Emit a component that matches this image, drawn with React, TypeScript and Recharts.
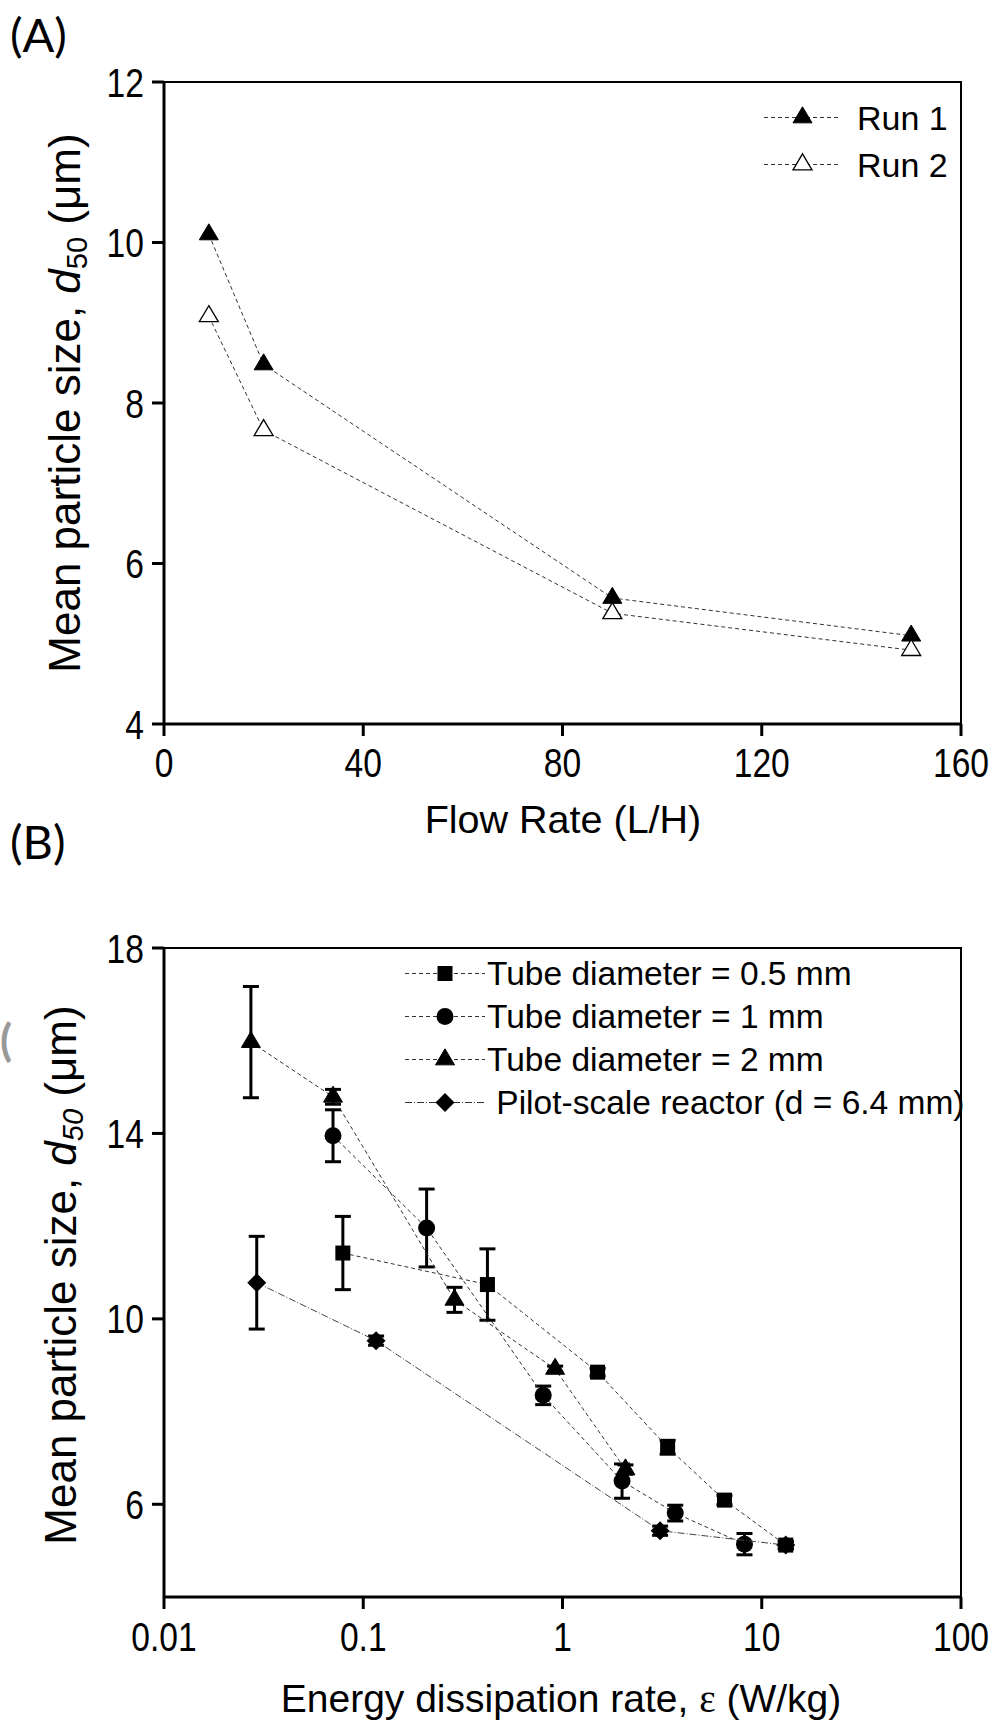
import { ScatterChart, Scatter, XAxis, YAxis, ErrorBar, ReferenceArea, Legend } from 'recharts'

const FONT = '"Liberation Sans", Arial, Helvetica, sans-serif'
const NARROW = 0.82 // tick labels in the original are a condensed face

// (A) flow rate series
const flowRates = [9, 20, 90, 150]
const run1 = [10.1, 8.48, 5.57, 5.1]
const run2 = [9.08, 7.66, 5.38, 4.92]
const flowTicks = [0, 40, 80, 120, 160]
const sizeTicksA = [4, 6, 8, 10, 12]

// (B) energy dissipation series
const tube05X = [0.079, 0.42, 1.5, 3.37, 6.5, 13.2]
const tube05Y = [11.42, 10.74, 8.85, 7.23, 6.09, 5.12]
const tube05Err = [0.79, 0.77, 0.08, 0.15, 0.1, 0.08]

const tube1X = [0.0705, 0.208, 0.8, 1.99, 3.68, 8.19]
const tube1Y = [13.95, 11.96, 8.35, 6.5, 5.81, 5.14]
const tube1Err = [0.56, 0.84, 0.2, 0.37, 0.17, 0.23]

const tube2X = [0.0273, 0.0705, 0.287, 0.918, 2.07]
const tube2Y = [15.97, 14.79, 10.41, 8.92, 6.75]
const tube2Err = [1.2, 0.16, 0.27, 0.06, 0.1]

const pilotX = [0.0292, 0.116, 3.09, 13.2]
const pilotY = [10.78, 9.53, 5.43, 5.12]
const pilotErr = [1.0, 0.1, 0.1, 0.08]

const energyTicks = [0.01, 0.1, 1, 10, 100]
const sizeTicksB = [6, 10, 14, 18]

const pts = (xs: number[], ys: number[], errs?: number[]) =>
  xs.map((x, i) => ({ x, y: ys[i], err: errs ? errs[i] : 0 }))

type Kind = 'triangle' | 'triangleOpen' | 'square' | 'circle' | 'diamond'

const DASH = '4 3'
const DASHDOT = '7 2 1 2'

function Marker({ kind, cx, cy }: { kind: Kind; cx: number; cy: number }) {
  if (cx == null || cy == null) return null
  if (kind === 'triangle' || kind === 'triangleOpen') {
    const w = 19
    const h = 16
    const p = `${cx},${cy - (h * 2) / 3} ${cx + w / 2},${cy + h / 3} ${cx - w / 2},${cy + h / 3}`
    return kind === 'triangle' ? (
      <polygon points={p} fill="#000" stroke="#000" strokeWidth={1} />
    ) : (
      <polygon points={p} fill="#fff" stroke="#000" strokeWidth={1.3} />
    )
  }
  if (kind === 'square') return <rect x={cx - 7.5} y={cy - 7.5} width={15} height={15} fill="#000" />
  if (kind === 'circle') return <circle cx={cx} cy={cy} r={8.5} fill="#000" />
  return <polygon points={`${cx},${cy - 9.5} ${cx + 9.5},${cy} ${cx},${cy + 9.5} ${cx - 9.5},${cy}`} fill="#000" />
}

// condensed tick labels
const XTick = (p: any) => (
  <text
    transform={`translate(${p.x},${p.y}) scale(${NARROW},1)`}
    textAnchor="middle"
    dy="0.71em"
    fontSize={41}
    fontFamily={FONT}
    fill="#000"
  >
    {String(p.payload.value)}
  </text>
)
const YTick = (p: any) => (
  <text
    transform={`translate(${p.x},${p.y}) scale(${NARROW},1)`}
    textAnchor="end"
    dy="0.355em"
    fontSize={41}
    fontFamily={FONT}
    fill="#000"
  >
    {String(p.payload.value)}
  </text>
)

type LegendItem = { label: string; kind: Kind; dash: string }

function legendBox(items: LegendItem[], rowH: number, lineW: number, gap: number, fontSize: number) {
  return () => (
    <div style={{ fontFamily: FONT, fontSize, color: '#000', lineHeight: 1 }}>
      {items.map((it) => (
        <div key={it.label} style={{ display: 'flex', alignItems: 'center', height: rowH }}>
          <svg width={lineW} height={rowH} style={{ display: 'block', flex: 'none' }}>
            <line x1={0} x2={lineW} y1={rowH / 2} y2={rowH / 2} stroke="#333" strokeWidth={1} strokeDasharray={it.dash} />
            <Marker kind={it.kind} cx={lineW / 2} cy={rowH / 2} />
          </svg>
          <span style={{ marginLeft: gap, whiteSpace: 'pre' }}>{it.label}</span>
        </div>
      ))}
    </div>
  )
}

const legendA: LegendItem[] = [
  { label: 'Run 1', kind: 'triangle', dash: DASH },
  { label: 'Run 2', kind: 'triangleOpen', dash: DASH },
]

const legendB: LegendItem[] = [
  { label: 'Tube diameter = 0.5 mm', kind: 'square', dash: DASH },
  { label: 'Tube diameter = 1 mm', kind: 'circle', dash: DASH },
  { label: 'Tube diameter = 2 mm', kind: 'triangle', dash: DASH },
  { label: ' Pilot-scale reactor (d = 6.4 mm)', kind: 'diamond', dash: DASHDOT },
]

const axisLine = { stroke: '#000', strokeWidth: 3 }

const shapeOf = (kind: Kind) => (p: any) => <Marker kind={kind} cx={p.cx} cy={p.cy} />

export default function App() {
  return (
    <div style={{ position: 'absolute', left: 0, top: 0, width: 1007, height: 1724, background: '#fff', overflow: 'hidden' }}>
      <div style={{ position: 'absolute', left: 0, top: 0 }}>
        <ScatterChart width={1007} height={860} margin={{ top: 82, right: 46, bottom: 0, left: 0 }} style={{ fontFamily: FONT }}>
          <XAxis
            type="number"
            dataKey="x"
            domain={[0, 160]}
            ticks={flowTicks}
            height={136}
            tickSize={12}
            tickMargin={12}
            axisLine={axisLine}
            tickLine={axisLine}
            tick={<XTick />}
          />
          <YAxis
            type="number"
            dataKey="y"
            domain={[4, 12]}
            ticks={sizeTicksA}
            width={164}
            tickSize={12}
            tickMargin={8}
            axisLine={axisLine}
            tickLine={axisLine}
            tick={<YTick />}
          />
          <ReferenceArea x1={0} x2={160} y1={4} y2={12} fill="none" stroke="#000" strokeWidth={2} />
          <Legend
            layout="vertical"
            align="center"
            verticalAlign="middle"
            content={legendBox(legendA, 47, 77, 16, 34)}
            wrapperStyle={{ left: 764, top: 94, width: 240 }}
          />
          <Scatter
            name="Run 1"
            data={pts(flowRates, run1)}
            line={{ stroke: '#333', strokeWidth: 1, strokeDasharray: DASH }}
            lineType="joint"
            shape={shapeOf('triangle')}
            isAnimationActive={false}
          />
          <Scatter
            name="Run 2"
            data={pts(flowRates, run2)}
            line={{ stroke: '#333', strokeWidth: 1, strokeDasharray: DASH }}
            lineType="joint"
            shape={shapeOf('triangleOpen')}
            isAnimationActive={false}
          />
        </ScatterChart>
      </div>

      <div style={{ position: 'absolute', left: 0, top: 860 }}>
        <ScatterChart width={1007} height={864} margin={{ top: 88, right: 46, bottom: 0, left: 0 }} style={{ fontFamily: FONT }}>
          <XAxis
            type="number"
            dataKey="x"
            scale="log"
            domain={[0.01, 100]}
            ticks={energyTicks}
            height={127}
            tickSize={12}
            tickMargin={13}
            axisLine={axisLine}
            tickLine={axisLine}
            tick={<XTick />}
          />
          <YAxis
            type="number"
            dataKey="y"
            domain={[4, 18]}
            ticks={sizeTicksB}
            width={164}
            tickSize={12}
            tickMargin={8}
            axisLine={axisLine}
            tickLine={axisLine}
            tick={<YTick />}
          />
          <ReferenceArea x1={0.01} x2={100} y1={4} y2={18} fill="none" stroke="#000" strokeWidth={2} />
          <Legend
            layout="vertical"
            align="center"
            verticalAlign="middle"
            content={legendBox(legendB, 43, 80, 2, 33.5)}
            wrapperStyle={{ left: 405, top: 92, width: 600 }}
          />
          <Scatter
            name="Tube diameter = 0.5 mm"
            data={pts(tube05X, tube05Y, tube05Err)}
            line={{ stroke: '#333', strokeWidth: 1, strokeDasharray: DASH }}
            lineType="joint"
            shape={shapeOf('square')}
            isAnimationActive={false}
          >
            <ErrorBar dataKey="err" direction="y" width={8} stroke="#000" strokeWidth={3} />
          </Scatter>
          <Scatter
            name="Tube diameter = 1 mm"
            data={pts(tube1X, tube1Y, tube1Err)}
            line={{ stroke: '#333', strokeWidth: 1, strokeDasharray: DASH }}
            lineType="joint"
            shape={shapeOf('circle')}
            isAnimationActive={false}
          >
            <ErrorBar dataKey="err" direction="y" width={8} stroke="#000" strokeWidth={3} />
          </Scatter>
          <Scatter
            name="Tube diameter = 2 mm"
            data={pts(tube2X, tube2Y, tube2Err)}
            line={{ stroke: '#333', strokeWidth: 1, strokeDasharray: DASH }}
            lineType="joint"
            shape={shapeOf('triangle')}
            isAnimationActive={false}
          >
            <ErrorBar dataKey="err" direction="y" width={8} stroke="#000" strokeWidth={3} />
          </Scatter>
          <Scatter
            name="Pilot-scale reactor (d = 6.4 mm)"
            data={pts(pilotX, pilotY, pilotErr)}
            line={{ stroke: '#444', strokeWidth: 1, strokeDasharray: DASHDOT }}
            lineType="joint"
            shape={shapeOf('diamond')}
            isAnimationActive={false}
          >
            <ErrorBar dataKey="err" direction="y" width={8} stroke="#000" strokeWidth={3} />
          </Scatter>
        </ScatterChart>
      </div>

      {/* titles and panel letters */}
      <svg width={1007} height={1724} style={{ position: 'absolute', left: 0, top: 0, pointerEvents: 'none' }}>
        <text x={10} y={52} fontFamily="Lato, 'Open Sans', sans-serif" fontSize={47} fill="#000">(A)</text>
        <text x={10} y={859} fontFamily="Lato, 'Open Sans', sans-serif" fontSize={47} fill="#000">(B)</text>
        <text x={0} y={1056} fontFamily="Lato, sans-serif" fontWeight="bold" fontSize={44} fill="#999">(</text>

        <text x={563} y={833} textAnchor="middle" fontFamily={FONT} fontSize={39.5} fill="#000">Flow Rate (L/H)</text>
        <text x={561} y={1712} textAnchor="middle" fontFamily={FONT} fontSize={39} fill="#000">
          {'Energy dissipation rate, '}
          <tspan fontFamily="'Liberation Serif', 'DejaVu Serif', serif">ε</tspan>
          {' (W/kg)'}
        </text>

        <text transform="translate(80,403) rotate(-90)" textAnchor="middle" fontFamily={FONT} fontSize={44} fill="#000">
          {'Mean particle size, '}
          <tspan fontStyle="italic">d</tspan>
          <tspan fontSize={29} dy={7}>50</tspan>
          <tspan dy={-7}>{' (μm)'}</tspan>
        </text>
        <text transform="translate(76,1275) rotate(-90)" textAnchor="middle" fontFamily={FONT} fontSize={44} fill="#000">
          {'Mean particle size, '}
          <tspan fontStyle="italic">d</tspan>
          <tspan fontSize={29} fontStyle="italic" dy={7}>50</tspan>
          <tspan dy={-7}>{' (μm)'}</tspan>
        </text>
      </svg>
    </div>
  )
}
